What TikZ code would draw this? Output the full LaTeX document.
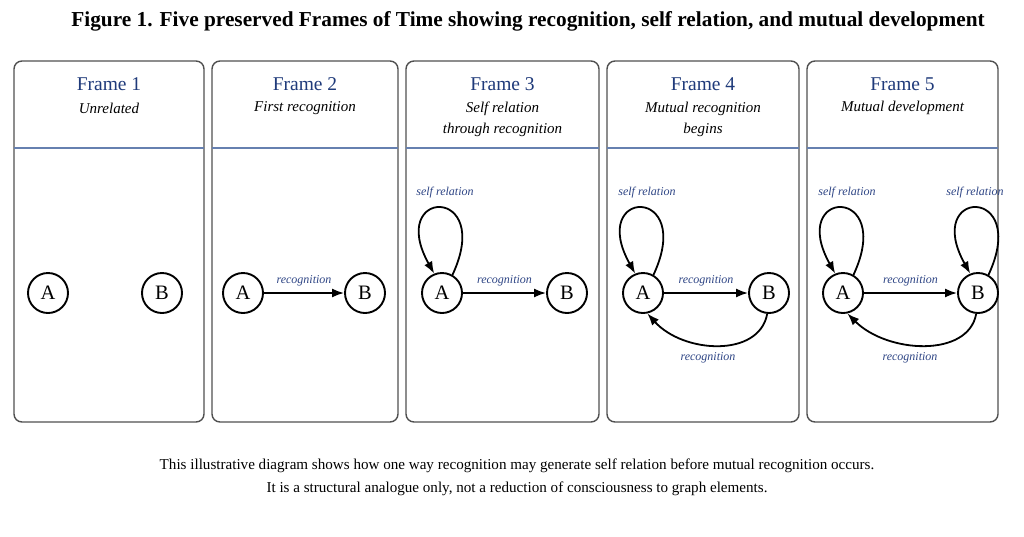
\documentclass[tikz,border=0pt]{standalone}
\usepackage{fontspec}
\setmainfont{Liberation Serif}
\usetikzlibrary{arrows.meta}
\definecolor{navy}{HTML}{1F3A7A}
\definecolor{lblue}{HTML}{2E4585}
\definecolor{sepblue}{HTML}{6680B0}
\definecolor{frameg}{HTML}{505050}
\tikzset{
  panel/.style={draw=frameg, line width=1.4pt, rounded corners=8pt},
  sepline/.style={draw=sepblue, line width=1.1pt},
  ftitle/.style={text=navy, font=\fontsize{19.5}{21}\selectfont, anchor=center},
  fsub/.style={font=\fontsize{15}{21}\selectfont\itshape, anchor=center, align=center},
  agent/.style={circle, draw, line width=1.9pt, minimum size=40pt, inner sep=0pt, font=\fontsize{20.5}{20}\selectfont},
  elabel/.style={text=lblue, font=\fontsize{12}{14}\selectfont\itshape},
  rel/.style={line width=1.8pt, -{Latex[length=12pt,width=9pt]}},
}
\begin{document}
\begin{tikzpicture}[x=1pt,y=-1pt]
\useasboundingbox (0,0) rectangle (1024,536);
\fill[white] (0,0) rectangle (1024,536);
\node[font=\fontsize{21.3}{24}\selectfont\bfseries] (title) at (528,21) {Figure 1. Five preserved Frames of Time showing recognition, self relation, and mutual development};

% panels
\foreach \l/\r [count=\i] in {14/204, 212/398, 406/599, 607/799, 807/998}{
  \draw[panel] (\l,61) rectangle (\r,422);
  \draw[sepline] (\l,148) -- (\r,148);
  \node[ftitle] (ft\i) at ({(\l+\r)/2},84) {Frame \i};
}
\node[fsub] (s1) at (109,108) {Unrelated};
\node[fsub] (s2) at (305,108) {First recognition};
\node[fsub] (s3) at (502.5,119) {Self relation\\through recognition};
\node[fsub] (s4) at (703,119) {Mutual recognition\\begins};
\node[fsub] (s5) at (902.5,108) {Mutual development};

% Frame 1
\node[agent] (A1) at (48,293) {A};
\node[agent] (B1) at (162,293) {B};

% Frame 2
\node[agent] (A2) at (243,293) {A};
\node[agent] (B2) at (365,293) {B};
\draw[rel] (A2) -- (B2) node[midway, above=3pt, elabel] {recognition};

% Frame 3
\node[agent] (A3) at (442,293) {A};
\node[agent] (B3) at (567,293) {B};
\draw[rel] (A3) -- (B3) node[midway, above=3pt, elabel] {recognition};
\draw[rel] (A3.60) .. controls +(42,-90) and +(-48,-86) .. (A3.112);
\node[elabel] (sr3) at (445,193) {self relation};

% Frame 4
\node[agent] (A4) at (643,293) {A};
\node[agent] (B4) at (769,293) {B};
\draw[rel] (A4) -- (B4) node[midway, above=3pt, elabel] {recognition};
\draw[rel] (A4.60) .. controls +(42,-90) and +(-48,-86) .. (A4.112);
\node[elabel] (sr4) at (647,193) {self relation};
\draw[rel] (B4.-95) .. controls +(-8,44) and +(36,40) .. (A4.-78);
\node[elabel] (rb4) at (708,358) {recognition};

% Frame 5
\node[agent] (A5) at (843,293) {A};
\node[agent] (B5) at (978,293) {B};
\draw[rel] (A5) -- (B5) node[midway, above=3pt, elabel] {recognition};
\draw[rel] (A5.60) .. controls +(42,-90) and +(-48,-86) .. (A5.112);
\node[elabel] (sr5a) at (847,193) {self relation};
\draw[rel] (B5.60) .. controls +(42,-90) and +(-48,-86) .. (B5.112);
\node[elabel] (sr5b) at (975,193) {self relation};
\draw[rel] (B5.-95) .. controls +(-8,44) and +(40,40) .. (A5.-78);
\node[elabel] (rb5) at (910,358) {recognition};

% caption
\node[font=\fontsize{15.1}{23}\selectfont, align=center] (cap) at (517,477) {This illustrative diagram shows how one way recognition may generate self relation before mutual recognition occurs.\\It is a structural analogue only, not a reduction of consciousness to graph elements.};
\end{tikzpicture}
\end{document}
